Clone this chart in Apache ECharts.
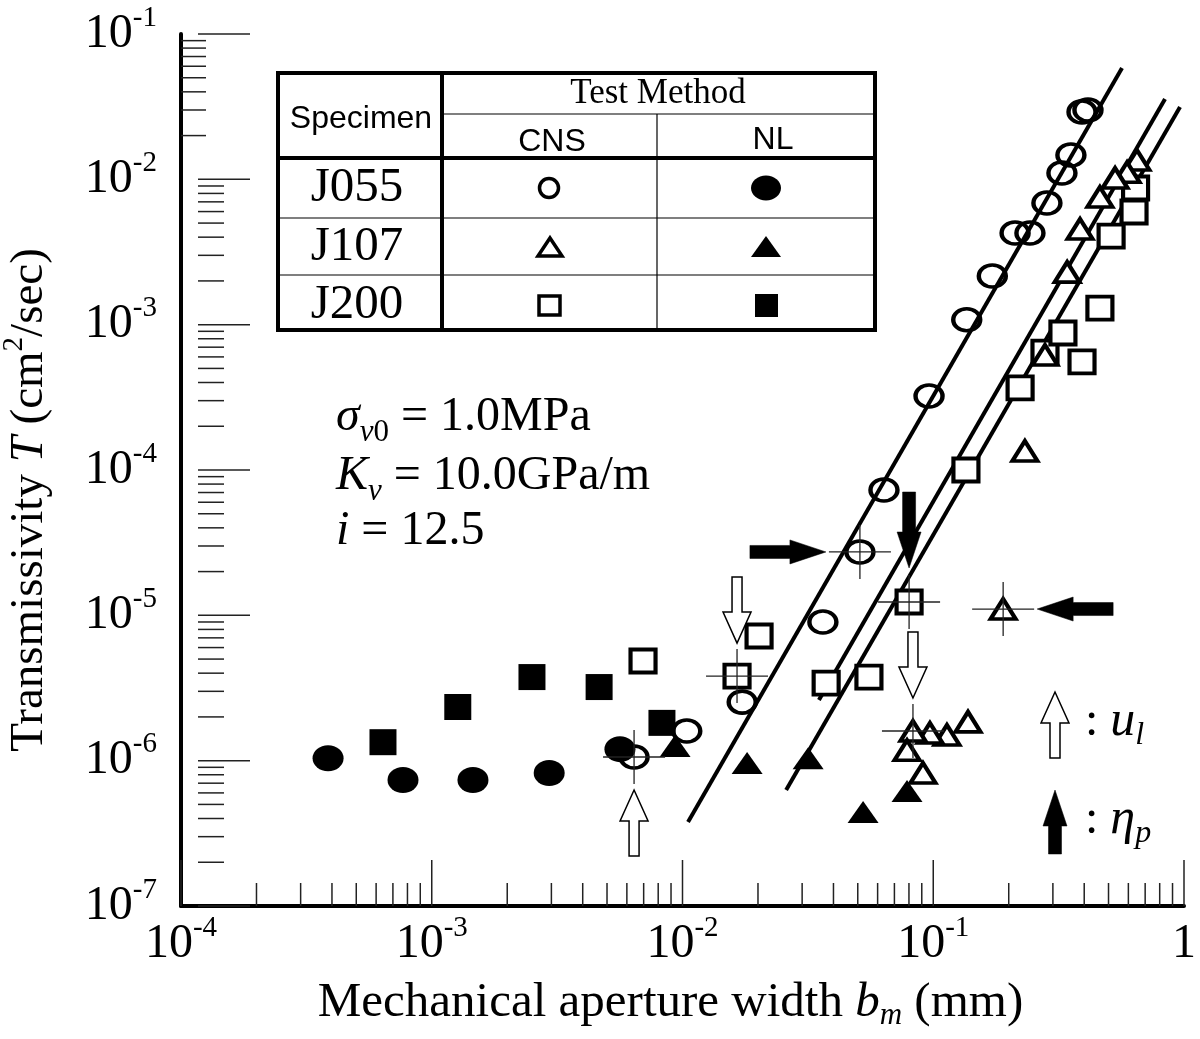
<!DOCTYPE html>
<html><head><meta charset="utf-8">
<script src="https://cdn.jsdelivr.net/npm/echarts@6/dist/echarts.min.js"></script>
<style>html,body{margin:0;padding:0;background:#fff}#c{width:1200px;height:1039px}</style>
</head><body><div id="c"></div>
<script>
// ---------- data ----------
const xTickExponents = [-4, -3, -2, -1, 0];
const yTickExponents = [-7, -6, -5, -4, -3, -2, -1];
const minorMultipliers = [2, 3, 4, 5, 6, 7, 8, 9];

const specimens = ['J055', 'J107', 'J200'];
const methods = ['CNS', 'NL'];

// [b_m (mm), T (cm2/sec)]
const j055CNS = [[6.41e-3,1.06e-6],[1.04e-2,1.60e-6],[1.73e-2,2.53e-6],[3.63e-2,8.99e-6],[5.10e-2,2.73e-5],[6.36e-2,7.28e-5],[9.62e-2,3.23e-4],[0.136,1.08e-3],[0.172,2.16e-3],[0.212,4.27e-3],[0.243,4.27e-3],[0.284,6.87e-3],[0.326,1.105e-2],[0.354,1.47e-2],[0.392,2.91e-2],[0.414,3.0e-2]];
const j055NL = [[3.86e-4,1.04e-6],[7.68e-4,7.36e-7],[1.46e-3,7.36e-7],[2.94e-3,8.22e-7],[5.63e-3,1.20e-6]];
const j107CNS = [[0.649,1.36e-2],[0.593,1.12e-2],[0.531,1.02e-2],[0.462,7.56e-3],[0.385,4.55e-3],[0.342,2.30e-3],[0.279,6.18e-4],[0.232,1.35e-4],[0.190,1.105e-5],[0.1376,1.85e-6],[0.1134,1.50e-6],[0.0970,1.55e-6],[0.0830,1.60e-6],[0.0786,1.18e-6],[0.0910,8.22e-7]];
const j107NL = [[9.34e-3,1.26e-6],[1.81e-2,9.63e-7],[3.17e-2,1.04e-6],[5.25e-2,4.43e-7],[7.86e-2,6.18e-7]];
const j200CNS = [[6.96e-3,4.85e-6],[1.65e-2,3.82e-6],[2.02e-2,7.21e-6],[3.74e-2,3.42e-6],[5.54e-2,3.76e-6],[8.01e-2,1.235e-5],[0.135,1.0e-4],[0.222,3.67e-4],[0.279,6.48e-4],[0.329,8.76e-4],[0.392,5.54e-4],[0.462,1.30e-3],[0.512,4.07e-3],[0.632,5.96e-3],[0.641,8.72e-3]];
const j200NL = [[6.39e-4,1.34e-6],[1.27e-3,2.34e-6],[2.51e-3,3.76e-6],[4.65e-3,3.21e-6],[8.28e-3,1.82e-6]];

const fitLine1 = [[0.01052,3.78e-7],[0.566,0.0583]];
const fitLine2 = [[0.0350,2.61e-6],[0.840,0.0357]];
const fitLine3 = [[0.0259,6.28e-7],[0.964,0.0315]];

const crosshairPoints = [[6.41e-3,1.06e-6],[5.10e-2,2.73e-5],[1.65e-2,3.82e-6],[8.01e-2,1.235e-5],[0.190,1.105e-5],[0.0830,1.60e-6]];
// [x, y, arrow direction, kind]
const arrowMarks = [[5.10e-2,2.73e-5,'right','filled'],[8.01e-2,1.235e-5,'down','filled'],[0.190,1.105e-5,'left','filled'],
                    [6.41e-3,1.06e-6,'up','open'],[1.65e-2,3.82e-6,'down','open'],[0.0830,1.60e-6,'down','open']];

// ---------- styles ----------
const SERIF = 'Liberation Serif';
const SANS = 'Liberation Sans';
const X_MIN = 1e-4, X_MAX = 1, Y_MIN = 1e-7, Y_MAX = 1e-1;
const DIRS = {up:[0,-1], down:[0,1], left:[-1,0], right:[1,0]};
const FILLED_ARROW = {gap:34, L:76, H:36, W:12, S:6.5};
const OPEN_ARROW = {gap:33, L:66, H:31, W:14, S:5};
const ELLIPSE = 'path://M0,10A10,10,0,1,1,20,10A10,10,0,1,1,0,10Z';

function arrowPoints(tx, ty, dx, dy, L, H, W, S) {
  const nx = -dy, ny = dx;
  const bx = tx - dx*H, by = ty - dy*H;
  const ex = tx - dx*L, ey = ty - dy*L;
  return [[tx,ty],[bx+nx*W,by+ny*W],[bx+nx*S,by+ny*S],[ex+nx*S,ey+ny*S],[ex-nx*S,ey-ny*S],[bx-nx*S,by-ny*S],[bx-nx*W,by-ny*W]];
}

function expLabel(v, list) {
  const e = Math.round(Math.log10(v));
  if (list.indexOf(e) < 0) return '';
  if (e === 0) return '{b|1}';
  return '{b|10}{s|' + e + '}';
}
const labelRich = {
  b: {fontSize: 48, fontFamily: SERIF, color: '#000', lineHeight: 46},
  s: {fontSize: 29, fontFamily: SERIF, color: '#000', lineHeight: 14, height: 14, verticalAlign: 'top'}
};

// tick data (axis decoration)
const xTicks = [], yTicks = [];
xTickExponents.forEach(e => {
  xTicks.push([Math.pow(10, e), Y_MIN, 0]);
  if (e < 0) minorMultipliers.forEach(m => xTicks.push([m * Math.pow(10, e), Y_MIN, 1]));
});
yTickExponents.forEach(e => {
  yTicks.push([X_MIN, Math.pow(10, e), 0]);
  if (e < -1) minorMultipliers.forEach(m => yTicks.push([X_MIN, m * Math.pow(10, e), e === -2 ? 2 : 1]));
});

function scatter(name, data, symbol, size, filled) {
  return {
    type: 'scatter', name, data, symbol, symbolSize: size, z: 5, silent: true,
    itemStyle: filled ? {color: '#000', borderWidth: 0, opacity: 1}
      : {color: symbol === ELLIPSE ? 'rgba(255,255,255,0)' : '#fff', borderColor: '#000', borderWidth: 4, opacity: 1}
  };
}
function fitLine(data) {
  return {type: 'line', data, symbol: 'none', silent: true, z: 4, lineStyle: {color: '#000', width: 4}};
}

// ---------- graphics (table legend, notes, titles) ----------
const graphics = [];
function gLine(x1, y1, x2, y2, w) {
  graphics.push({type: 'line', z: 50, silent: true, shape: {x1, y1, x2, y2}, style: {stroke: '#000', lineWidth: w}});
}
function gText(x, y, text, style, extra) {
  graphics.push(Object.assign({type: 'text', x, y, z: 50, silent: true,
    style: Object.assign({text, fill: '#000', align: 'center', verticalAlign: 'middle'}, style)}, extra || {}));
}
// table
const TB = {l: 278, t: 73, r: 875, b: 330, c1: 442, c2: 657, h1: 114, h2: 158, r1: 218, r2: 275};
gLine(TB.l, TB.h2, TB.r, TB.h2, 4);
gLine(TB.c1, TB.h1, TB.r, TB.h1, 1.2);
gLine(TB.c2, TB.h1, TB.c2, TB.b, 1.2);
gLine(TB.l, TB.r1, TB.r, TB.r1, 1.2);
gLine(TB.l, TB.r2, TB.r, TB.r2, 1.2);
gLine(TB.c1, TB.t, TB.c1, TB.b, 4);
graphics.push({type: 'rect', z: 50, silent: true, shape: {x: TB.l, y: TB.t, width: TB.r - TB.l, height: TB.b - TB.t},
  style: {fill: 'none', stroke: '#000', lineWidth: 4}});
gText(361, 119, 'Specimen', {fontSize: 32, fontFamily: SANS});
gText(658, 94, 'Test Method', {fontSize: 35, fontFamily: SERIF});
const colX = [549, 766];
gText(colX[0] + 3, 142, methods[0], {fontSize: 32, fontFamily: SANS});
gText(colX[1] + 7, 140, methods[1], {fontSize: 32, fontFamily: SANS});
const rowY = [188, 247, 305];
specimens.forEach((s, i) => gText(357, rowY[i], s, {fontSize: 49, fontFamily: SERIF}));
// legend markers
graphics.push({type: 'circle', z: 51, silent: true, shape: {cx: colX[0], cy: rowY[0], r: 9.5}, style: {fill: '#fff', stroke: '#000', lineWidth: 3.5}});
graphics.push({type: 'ellipse', z: 51, silent: true, shape: {cx: colX[1], cy: rowY[0], rx: 15, ry: 12.5}, style: {fill: '#000'}});
graphics.push({type: 'polygon', z: 51, silent: true, shape: {points: [[colX[0]+1, rowY[1]-9], [colX[0]+13, rowY[1]+9], [colX[0]-11, rowY[1]+9]]}, style: {fill: '#fff', stroke: '#000', lineWidth: 3.5}});
graphics.push({type: 'polygon', z: 51, silent: true, shape: {points: [[colX[1], rowY[1]-11], [colX[1]+15, rowY[1]+10], [colX[1]-15, rowY[1]+10]]}, style: {fill: '#000'}});
graphics.push({type: 'rect', z: 51, silent: true, shape: {x: colX[0]-10, y: rowY[2]-9, width: 21, height: 19}, style: {fill: '#fff', stroke: '#000', lineWidth: 3.5}});
graphics.push({type: 'rect', z: 51, silent: true, shape: {x: colX[1]-11, y: rowY[2]-11, width: 23, height: 23}, style: {fill: '#000'}});

// condition notes
const noteRich = {
  n: {fontSize: 48, fontFamily: SERIF, lineHeight: 46},
  it: {fontSize: 48, fontFamily: SERIF, fontStyle: 'italic', lineHeight: 46},
  subi: {fontSize: 31, fontFamily: SERIF, fontStyle: 'italic', lineHeight: 14, height: 14, verticalAlign: 'bottom'},
  sub: {fontSize: 31, fontFamily: SERIF, lineHeight: 14, height: 14, verticalAlign: 'bottom'}
};
gText(336, 417, '{it|σ}{subi|v}{sub|0}{n| = 1.0MPa}', {align: 'left', rich: noteRich});
gText(336, 476, '{it|K}{subi|v}{n| = 10.0GPa/m}', {align: 'left', rich: noteRich});
gText(336, 531, '{it|i}{n| = 12.5}', {align: 'left', rich: noteRich});

// arrow legend
graphics.push({type: 'polygon', z: 51, silent: true, shape: {points: arrowPoints(1055, 692, 0, -1, OPEN_ARROW.L, OPEN_ARROW.H, OPEN_ARROW.W, OPEN_ARROW.S)}, style: {fill: '#fff', stroke: '#000', lineWidth: 1.5}});
graphics.push({type: 'polygon', z: 51, silent: true, shape: {points: arrowPoints(1055, 790, 0, -1, 64, FILLED_ARROW.H, FILLED_ARROW.W, FILLED_ARROW.S)}, style: {fill: '#000', stroke: '#000', lineWidth: 0.5}});
const legendRich = {
  n: {fontSize: 48, fontFamily: SERIF, lineHeight: 46},
  it: {fontSize: 50, fontFamily: SERIF, fontStyle: 'italic', lineHeight: 46},
  subi: {fontSize: 32, fontFamily: SERIF, fontStyle: 'italic', lineHeight: 18, height: 18, verticalAlign: 'bottom'}
};
gText(1085, 722, '{n|: }{it|u}{subi|l}', {align: 'left', rich: legendRich});
gText(1085, 820, '{n|: }{it|η}{subi|p}', {align: 'left', rich: legendRich});

// y axis title
gText(30, 500, '{n|Transmissivity }{it|T}{n| (cm}{sup|2}{n|/sec)}', {rich: {
  n: {fontSize: 47, fontFamily: SERIF, lineHeight: 46},
  it: {fontSize: 47, fontFamily: SERIF, fontStyle: 'italic', lineHeight: 46},
  sup: {fontSize: 29, fontFamily: SERIF, lineHeight: 14, height: 14, verticalAlign: 'top'}
}}, {rotation: Math.PI / 2});

// ---------- chart ----------
const chart = echarts.init(document.getElementById('c'), null, {renderer: 'canvas', width: 1200, height: 1039});
chart.setOption({
  animation: false,
  backgroundColor: '#fff',
  grid: {left: 181, right: 16, top: 34, bottom: 133},
  xAxis: {
    type: 'log', logBase: 10, min: X_MIN, max: X_MAX, interval: 1,
    axisLine: {show: true, onZero: false, lineStyle: {color: '#000', width: 4}},
    axisTick: {show: false}, splitLine: {show: false},
    axisLabel: {margin: 15, showMinLabel: true, showMaxLabel: true, hideOverlap: false,
      formatter: v => expLabel(v, xTickExponents), rich: labelRich},
    name: '{n|Mechanical aperture width }{it|b}{sub|m}{n| (mm)}',
    nameLocation: 'middle', nameGap: 74,
    nameTextStyle: {padding: [0, 24, 0, 0], rich: {
      n: {fontSize: 49, fontFamily: SERIF, color: '#000', lineHeight: 46},
      it: {fontSize: 49, fontFamily: SERIF, fontStyle: 'italic', color: '#000', lineHeight: 46},
      sub: {fontSize: 31, fontFamily: SERIF, fontStyle: 'italic', color: '#000', lineHeight: 20, height: 20, verticalAlign: 'bottom'}
    }}
  },
  yAxis: {
    type: 'log', logBase: 10, min: Y_MIN, max: Y_MAX, interval: 1,
    axisLine: {show: true, onZero: false, lineStyle: {color: '#000', width: 4}},
    axisTick: {show: false}, splitLine: {show: false},
    axisLabel: {margin: 24, showMinLabel: true, showMaxLabel: true, hideOverlap: false,
      formatter: v => expLabel(v, yTickExponents), rich: labelRich}
  },
  graphic: graphics,
  series: [
    fitLine(fitLine1), fitLine(fitLine2), fitLine(fitLine3),
    scatter('J055 NL', j055NL, ELLIPSE, [31, 26], true),
    scatter('J200 NL', j200NL, 'rect', [27, 26], true),
    scatter('J107 NL', j107NL, 'triangle', [31, 22], true),
    scatter('J200 CNS', j200CNS, 'rect', [25, 23], false),
    scatter('J107 CNS', j107CNS, 'triangle', [25, 20], false),
    scatter('J055 CNS', j055CNS, ELLIPSE, [27, 22], false),
    {
      type: 'custom', coordinateSystem: 'cartesian2d', data: xTicks, encode: {x: 0, y: 1}, z: 3, silent: true, clip: false,
      renderItem(params, api) {
        const p = api.coord([api.value(0), api.value(1)]);
        const len = api.value(2) === 0 ? 46 : 23;
        return {type: 'line', shape: {x1: p[0], y1: p[1], x2: p[0], y2: p[1] - len}, style: {stroke: '#222', lineWidth: 1.5}};
      }
    },
    {
      type: 'custom', coordinateSystem: 'cartesian2d', data: yTicks, encode: {x: 0, y: 1}, z: 3, silent: true, clip: false,
      renderItem(params, api) {
        const p = api.coord([api.value(0), api.value(1)]);
        const k = api.value(2);
        const a = k === 2 ? 0 : 17, b = k === 0 ? 69 : (k === 2 ? 25 : 43);
        return {type: 'line', shape: {x1: p[0] + a, y1: p[1], x2: p[0] + b, y2: p[1]}, style: {stroke: '#222', lineWidth: 1.5}};
      }
    },
    {
      type: 'custom', coordinateSystem: 'cartesian2d', data: crosshairPoints, encode: {x: 0, y: 1}, z: 8, silent: true, clip: false,
      renderItem(params, api) {
        const p = api.coord([api.value(0), api.value(1)]);
        return {type: 'group', children: [
          {type: 'line', shape: {x1: p[0] - 31, y1: p[1], x2: p[0] + 31, y2: p[1]}, style: {stroke: '#222', lineWidth: 1.3}},
          {type: 'line', shape: {x1: p[0], y1: p[1] - 27, x2: p[0], y2: p[1] + 27}, style: {stroke: '#222', lineWidth: 1.3}}
        ]};
      }
    },
    {
      type: 'custom', coordinateSystem: 'cartesian2d', data: arrowMarks.map(a => [a[0], a[1]]), encode: {x: 0, y: 1}, z: 9, silent: true, clip: false,
      renderItem(params, api) {
        const m = arrowMarks[params.dataIndex];
        const p = api.coord([api.value(0), api.value(1)]);
        const d = DIRS[m[2]];
        const filled = m[3] === 'filled';
        const sz = filled ? FILLED_ARROW : OPEN_ARROW;
        const tx = p[0] - d[0] * sz.gap, ty = p[1] - d[1] * sz.gap;
        return {type: 'polygon', shape: {points: arrowPoints(tx, ty, d[0], d[1], sz.L, sz.H, sz.W, sz.S)},
          style: {fill: filled ? '#000' : '#fff', stroke: '#000', lineWidth: filled ? 0.5 : 1.5}};
      }
    }
  ]
});
</script>
</body></html>
